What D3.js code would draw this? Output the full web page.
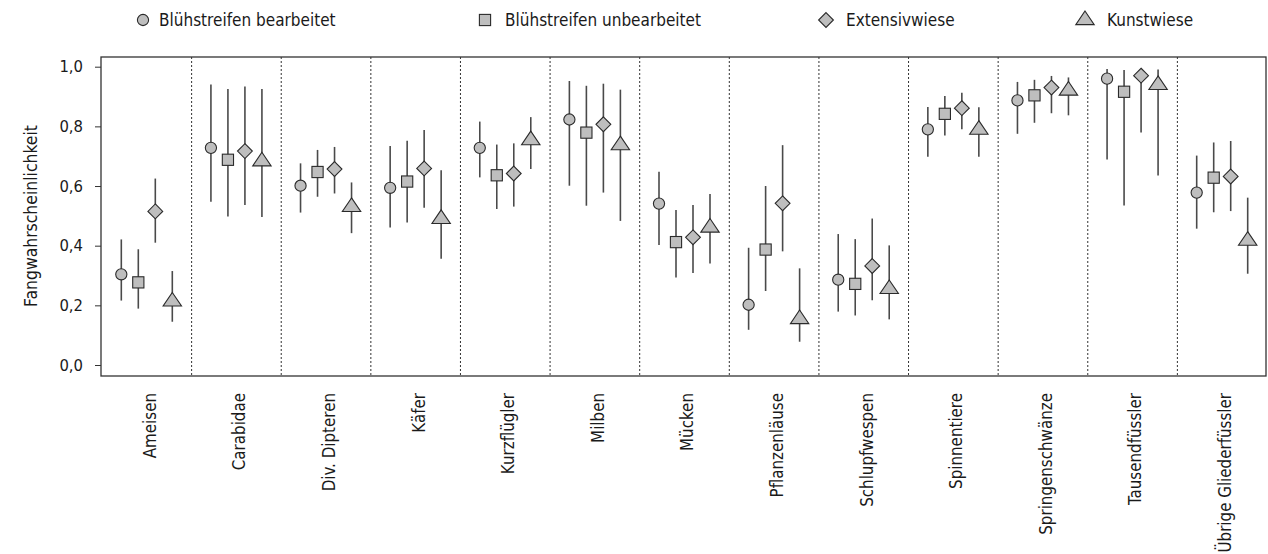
<!DOCTYPE html>
<html>
<head>
<meta charset="utf-8">
<script src="https://cdn.jsdelivr.net/npm/d3@7"></script>
<style>
  html, body { margin: 0; padding: 0; background: #fff; }
  svg text { font-family: "DejaVu Sans Condensed", "Open Sans", sans-serif; fill: #1a1a1a; }
</style>
</head>
<body>
<svg id="chart" width="1268" height="554"></svg>
<script>
const categories = ["Ameisen", "Carabidae", "Div. Dipteren", "Käfer", "Kurzflügler", "Milben", "Mücken",
  "Pflanzenläuse", "Schlupfwespen", "Spinnentiere", "Springenschwänze", "Tausendfüssler", "Übrige Gliederfüssler"];
const seriesNames = ["Blühstreifen bearbeitet", "Blühstreifen unbearbeitet", "Extensivwiese", "Kunstwiese"];
const yTicks = [0, 0.2, 0.4, 0.6, 0.8, 1.0];

// estimates, lower and upper interval bounds per series
const bearbeitet      = [0.304, 0.728, 0.601, 0.594, 0.728, 0.823, 0.541, 0.202, 0.286, 0.790, 0.887, 0.960, 0.578];
const bearbeitetLo    = [0.216, 0.547, 0.511, 0.461, 0.629, 0.601, 0.402, 0.118, 0.179, 0.698, 0.775, 0.689, 0.457];
const bearbeitetHi    = [0.421, 0.940, 0.676, 0.734, 0.816, 0.952, 0.648, 0.393, 0.439, 0.865, 0.949, 0.992, 0.702];

const unbearbeitet    = [0.277, 0.688, 0.647, 0.615, 0.636, 0.779, 0.412, 0.387, 0.272, 0.842, 0.904, 0.916, 0.628];
const unbearbeitetLo  = [0.189, 0.498, 0.564, 0.478, 0.523, 0.534, 0.293, 0.248, 0.166, 0.769, 0.812, 0.535, 0.512];
const unbearbeitetHi  = [0.388, 0.925, 0.721, 0.752, 0.739, 0.936, 0.520, 0.600, 0.422, 0.902, 0.956, 0.989, 0.746];

const extensiv        = [0.515, 0.717, 0.657, 0.659, 0.642, 0.807, 0.428, 0.542, 0.332, 0.861, 0.930, 0.970, 0.632];
const extensivLo      = [0.410, 0.536, 0.575, 0.527, 0.531, 0.578, 0.308, 0.381, 0.217, 0.790, 0.844, 0.779, 0.516];
const extensivHi      = [0.625, 0.934, 0.731, 0.788, 0.743, 0.943, 0.536, 0.737, 0.491, 0.913, 0.969, 0.989, 0.751];

const kunst           = [0.213, 0.683, 0.530, 0.490, 0.754, 0.737, 0.461, 0.154, 0.255, 0.789, 0.920, 0.939, 0.417];
const kunstLo         = [0.145, 0.496, 0.442, 0.356, 0.657, 0.483, 0.340, 0.078, 0.153, 0.698, 0.837, 0.635, 0.306];
const kunstHi         = [0.315, 0.925, 0.612, 0.653, 0.831, 0.923, 0.573, 0.324, 0.401, 0.864, 0.964, 0.991, 0.561];

const series = [
  { name: seriesNames[0], shape: "circle",   est: bearbeitet,   lo: bearbeitetLo,   hi: bearbeitetHi },
  { name: seriesNames[1], shape: "square",   est: unbearbeitet, lo: unbearbeitetLo, hi: unbearbeitetHi },
  { name: seriesNames[2], shape: "diamond",  est: extensiv,     lo: extensivLo,     hi: extensivHi },
  { name: seriesNames[3], shape: "triangle", est: kunst,        lo: kunstLo,        hi: kunstHi }
];

const svg = d3.select("#chart");
const box = { left: 101, right: 1266, top: 57, bottom: 376 };

const x = d3.scaleBand().domain(categories).range([box.left + 1, box.right + 1]).padding(0);
const y = d3.scaleLinear().domain([0, 1]).range([365, 66.7]);
const offsets = d3.scaleBand().domain(d3.range(4)).range([-34, 34]);
const off = i => offsets(i) + offsets.bandwidth() / 2;

const fill = "#bebebe", stroke = "#2a2a2a";

function drawShape(g, shape, cx, cy) {
  if (shape === "circle") {
    g.append("circle").attr("cx", cx).attr("cy", cy).attr("r", 5.6);
  } else if (shape === "square") {
    g.append("rect").attr("x", cx - 5.6).attr("y", cy - 5.6).attr("width", 11.2).attr("height", 11.2);
  } else if (shape === "diamond") {
    const h = 7.4;
    g.append("path").attr("d", `M${cx},${cy - h}L${cx + h},${cy}L${cx},${cy + h}L${cx - h},${cy}Z`);
  } else {
    const w = 9.2, up = 9.0, dn = 4.6;
    g.append("path").attr("d", `M${cx},${cy - up}L${cx + w},${cy + dn}L${cx - w},${cy + dn}Z`);
  }
}

// dividers
svg.append("g").selectAll("line").data(categories.slice(1)).join("line")
  .attr("x1", d => x(d)).attr("x2", d => x(d))
  .attr("y1", box.top).attr("y2", box.bottom)
  .attr("stroke", "#333").attr("stroke-width", 1).attr("stroke-dasharray", "2,2");

// error bars and markers
series.forEach((s, si) => {
  const g = svg.append("g");
  g.selectAll("line").data(categories).join("line")
    .attr("x1", (d, i) => x(d) + x.bandwidth() / 2 + off(si))
    .attr("x2", (d, i) => x(d) + x.bandwidth() / 2 + off(si))
    .attr("y1", (d, i) => y(s.lo[i]))
    .attr("y2", (d, i) => y(s.hi[i]))
    .attr("stroke", "#4a4a4a").attr("stroke-width", 1.6);
  const mg = svg.append("g").attr("fill", fill).attr("stroke", stroke).attr("stroke-width", 1.1);
  categories.forEach((c, i) => {
    drawShape(mg, s.shape, x(c) + x.bandwidth() / 2 + off(si), y(s.est[i]));
  });
});

// plot box
svg.append("rect").attr("x", box.left).attr("y", box.top)
  .attr("width", box.right - box.left).attr("height", box.bottom - box.top)
  .attr("fill", "none").attr("stroke", "#333").attr("stroke-width", 1.3);

// y axis
const yAxis = d3.axisLeft(y).tickValues(yTicks).tickSize(6).tickPadding(12)
  .tickFormat(d => d3.format(".1f")(d).replace(".", ","));
const ya = svg.append("g").attr("transform", `translate(${box.left},0)`).call(yAxis);
ya.select(".domain").remove();
ya.selectAll(".tick line").attr("stroke", "#333");
ya.selectAll(".tick text").attr("font-size", 16.5).attr("font-family", "DejaVu Sans Condensed, Open Sans, sans-serif").attr("fill", "#1a1a1a");

svg.append("text").attr("transform", "translate(37,216) rotate(-90)")
  .attr("text-anchor", "middle").attr("font-size", 17.4).text("Fangwahrscheinlichkeit");

// x labels
svg.append("g").selectAll("text").data(categories).join("text")
  .attr("transform", d => `translate(${x(d) + x.bandwidth() / 2 + 3},393) rotate(-90)`)
  .attr("text-anchor", "end").attr("dy", "0.35em").attr("font-size", 16.8).text(d => d);

// legend
const legendMarkX = [143, 485, 826, 1085];
const legendTextX = [159, 505, 846, 1107];
const lg = svg.append("g");
series.forEach((s, i) => {
  const g = lg.append("g").attr("fill", fill).attr("stroke", stroke).attr("stroke-width", 1.1);
  drawShape(g, s.shape, legendMarkX[i], 20);
  lg.append("text").attr("x", legendTextX[i]).attr("y", 20).attr("dy", "0.35em")
    .attr("font-size", 17).text(s.name);
});
</script>
</body>
</html>
